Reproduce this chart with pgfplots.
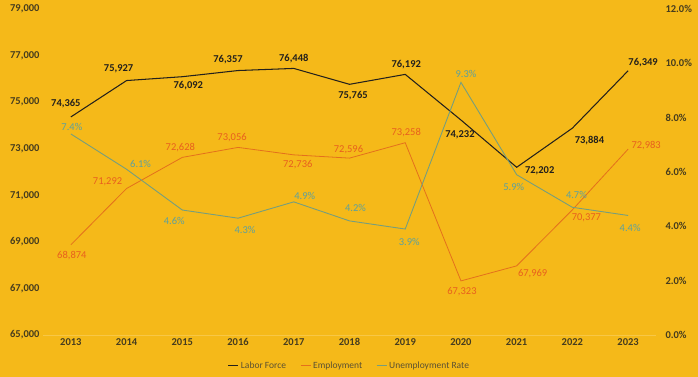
\documentclass[border=0pt]{standalone}
\usepackage{pgfplots}
\pgfplotsset{compat=1.18}
\usepackage{fontspec}
\setmainfont{Carlito}
\definecolor{bg}{RGB}{245,185,25}
\definecolor{lf}{RGB}{35,32,28}
\definecolor{emp}{RGB}{228,112,28}
\definecolor{emplab}{RGB}{232,95,30}
\definecolor{unl}{RGB}{118,158,125}
\definecolor{unlab}{RGB}{92,160,158}
\definecolor{tick}{RGB}{70,60,30}
\definecolor{legtxt}{RGB}{90,80,50}
\begin{document}
\begin{tikzpicture}
\fill[bg] (-43pt,-42pt) rectangle (655pt,335pt);
\begin{axis}[
  at={(0pt,0pt)}, anchor=south west,
  scale only axis, width=613pt, height=326pt,
  xmin=2012.5, xmax=2023.5, ymin=65000, ymax=79000,
  xtick={2013,...,2023},
  scaled y ticks=false,
  xticklabel style={/pgf/number format/1000 sep={}},
  ytick={65000,67000,...,79000},
  yticklabel style={/pgf/number format/1000 sep={,}},
  /pgf/number format/assume math mode=true,
  ticklabel style={font=\fontsize{10.5}{12}\selectfont\bfseries, text=tick},
  axis x line*=bottom, axis y line*=left,
  x axis line style={draw=bg!80!white, line width=0.6pt},
  y axis line style={draw=none},
  major tick length=0pt,
  clip=false,
  nodes near coords={\pgfmathprintnumber[fixed,precision=0,1000 sep={,}]{\pgfplotspointmeta}},
  point meta=y,
  visualization depends on={\thisrow{dx}\as\dx},
  visualization depends on={\thisrow{dy}\as\dy},
  nodes near coords style={anchor=center, xshift=\dx pt, yshift=\dy pt, font=\fontsize{10.5}{12}\selectfont, inner sep=0pt},
]
\addplot[lf, line width=1.05pt, nodes near coords style={text=lf, font=\fontsize{10.5}{12}\selectfont\bfseries}] table[x=x,y=y] {
x y dx dy
2013 74365 -5 13
2014 75927 -8 12
2015 76092 6 -8.5
2016 76357 -10 11
2017 76448 0 9.5
2018 75765 3.5 -11.5
2019 76192 1 10
2020 74232 -1 -15
2021 72202 23 -3
2022 73884 17 -12
2023 76349 15 8
};
\addplot[emp, line width=0.8pt, nodes near coords style={text=emplab}] table[x=x,y=y] {
x y dx dy
2013 68874 1 -11
2014 71292 -19 6.5
2015 72628 -2 10
2016 73056 -6 10
2017 72736 4 -10
2018 72596 -1 8.5
2019 73258 1 10.5
2020 67323 1 -11
2021 67969 16 -8
2022 70377 14 -8
2023 72983 18 4
};
\end{axis}
\begin{axis}[
  at={(0pt,0pt)}, anchor=south west,
  scale only axis, width=613pt, height=326pt,
  xmin=2012.5, xmax=2023.5, ymin=0, ymax=12,
  axis x line=none, axis y line*=right,
  y axis line style={draw=none},
  ytick={0,2,...,12},
  yticklabel={\pgfmathprintnumber[fixed,fixed zerofill,precision=1]{\tick}\%},
  /pgf/number format/assume math mode=true,
  yticklabel style={font=\fontsize{10.5}{12}\selectfont\bfseries, text=tick, xshift=6pt},
  major tick length=0pt,
  clip=false,
  nodes near coords={\pgfmathprintnumber[fixed,fixed zerofill,precision=1]{\pgfplotspointmeta}\%},
  point meta=y,
  visualization depends on={\thisrow{dx}\as\dx},
  visualization depends on={\thisrow{dy}\as\dy},
  nodes near coords style={anchor=center, xshift=\dx pt, yshift=\dy pt, font=\fontsize{10.5}{12}\selectfont, text=unlab, inner sep=0pt},
  legend style={at={(0.5,-0.095)}, anchor=center, draw=none, fill=none,
    legend columns=3, font=\fontsize{9.5}{10}\selectfont, text=legtxt,
    /tikz/every even column/.append style={column sep=12pt}},
  legend image code/.code={\draw[#1, line width=1pt] (0pt,0pt) -- (10pt,0pt);},
  legend cell align=left,
]
\addlegendimage{lf, line width=1.05pt}
\addlegendentry{Labor Force}
\addlegendimage{emp, line width=0.8pt}
\addlegendentry{Employment}
\addplot[unl, line width=0.9pt] table[x=x,y=y] {
x y dx dy
2013 7.4 1 7
2014 6.1 14 5
2015 4.6 -8 -11
2016 4.3 7 -12
2017 4.9 11 6
2018 4.2 6 13
2019 3.9 4 -13
2020 9.3 5 8
2021 5.9 -3 -12
2022 4.7 4 12
2023 4.4 2 -12.5
};
\addlegendentry{Unemployment Rate}
\end{axis}
\end{tikzpicture}
\end{document}
